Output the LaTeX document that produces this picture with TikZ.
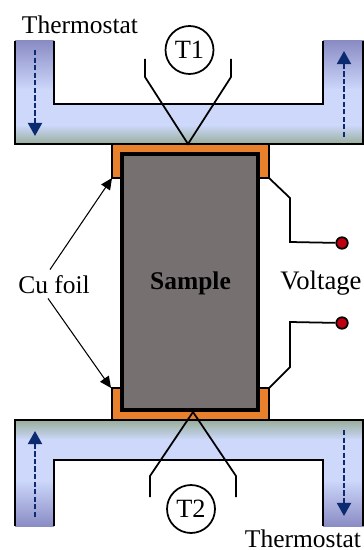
\documentclass[tikz,border=0pt]{standalone}
\usepackage{fontspec}
\setmainfont{Liberation Serif}
\definecolor{bathdark}{HTML}{8A8CC4}
\definecolor{bathlight}{HTML}{CDD8FB}
\definecolor{bathgreen}{HTML}{98AE9C}
\definecolor{flownavy}{HTML}{0C2A70}
\definecolor{foilorange}{HTML}{E8802C}
\definecolor{samplegrey}{HTML}{767070}
\definecolor{probered}{HTML}{C00010}
\tikzset{
  wall/.style={line width=1.1pt,black},
  wire/.style={line width=1.0pt,black},
  flow/.style={line width=1.3pt,flownavy,dash pattern=on 3pt off 1.3pt,-{Triangle[length=7.5pt,width=8pt]}},
  pointer/.style={line width=0.6pt,-{Triangle[length=6.5pt,width=6pt]}},
  label/.style={font=\fontsize{14.5}{16}\selectfont,inner sep=0pt},
  sensor/.style={circle,draw,line width=1.0pt,minimum size=0.96cm,inner sep=0pt,font=\fontsize{15}{16}\selectfont},
  probe/.style={circle,draw,line width=1.0pt,fill=probered,minimum size=0.23cm,inner sep=0pt},
}
\usetikzlibrary{arrows.meta}
\begin{document}
\begin{tikzpicture}[x=0.02cm,y=-0.02cm]
\useasboundingbox (0,0) rectangle (364,550);

\shade[top color=bathdark,bottom color=bathlight] (15,41) rectangle (54,90);
\shade[top color=bathdark,bottom color=bathlight] (323,41) rectangle (364,90);
\fill[bathlight] (15,89) rectangle (54,104);
\fill[bathlight] (323,89) rectangle (364,104);
\fill[bathlight] (15,104) rectangle (364,126);
\shade[top color=bathlight,bottom color=bathgreen] (15,125) rectangle (364,144);

\shade[top color=bathgreen,bottom color=bathlight] (15,420) rectangle (364,440);
\fill[bathlight] (15,439) rectangle (364,460);
\fill[bathlight] (15,460) rectangle (54,481);
\fill[bathlight] (323,460) rectangle (364,481);
\shade[top color=bathlight,bottom color=bathdark] (15,480) rectangle (54,526);
\shade[top color=bathlight,bottom color=bathdark] (323,480) rectangle (364,526);

\draw[wall] (15,41) -- (15,144) -- (363,144) -- (363,41);
\draw[wall] (54,41) -- (54,104) -- (323,104) -- (323,41);
\draw[wall] (15,526) -- (15,420) -- (363,420) -- (363,526);
\draw[wall] (54,526) -- (54,460) -- (323,460) -- (323,526);

\draw[wall,fill=foilorange] (112,144) -- (112,178) -- (122,178) -- (258,178) -- (269,178) -- (269,144) -- cycle;
\draw[wall,fill=foilorange] (112,420) -- (112,388) -- (122,388) -- (258,388) -- (269,388) -- (269,420) -- cycle;
\draw[line width=1.8pt,fill=samplegrey] (122,154) rectangle (258,410);

\draw[flow] (35,50) -- (35,136);
\draw[flow] (344,137) -- (344,51);
\draw[flow] (35,517) -- (35,431);
\draw[flow] (344,430) -- (344,516);

\node[label] at (80,25) {Thermostat};
\node[label] at (303,539) {Thermostat};
\node[label] (cu) at (54,285) {Cu foil};
\node[label,font=\fontsize{15.2}{17}\selectfont] at (321,283) {Voltage};
\node[label,font=\fontsize{14.5}{16}\selectfont\bfseries] (sample) at (190.5,283) {Sample};

\node[sensor] (T1) at (189.5,50) {T1};
\node[sensor] (T2) at (191,509) {T2};

\coordinate (A1) at (188,144);
\coordinate (A2) at (193,412);
\draw[wire] (145,59) -- (145,77) -- (A1) -- (231,77) -- (231,59);
\draw[wire] (150,497) -- (150,476) -- (A2) -- (236,476) -- (236,497);

\node[probe] (V1) at (342,243) {};
\node[probe] (V2) at (342,323) {};
\coordinate (F1) at (269,178);
\coordinate (F2) at (269,388);
\draw[wire] (F1) -- (290,198) -- (290,242) -- (V1);
\draw[wire] (F2) -- (290,367) -- (290,322) -- (V2);

\coordinate (C1) at (112,178);
\coordinate (C2) at (111,388);
\draw[pointer] (cu.north) ++(-4,-6) -- (C1);
\draw[pointer] (cu.south) ++(-6,4) -- (C2);
\end{tikzpicture}
\end{document}
